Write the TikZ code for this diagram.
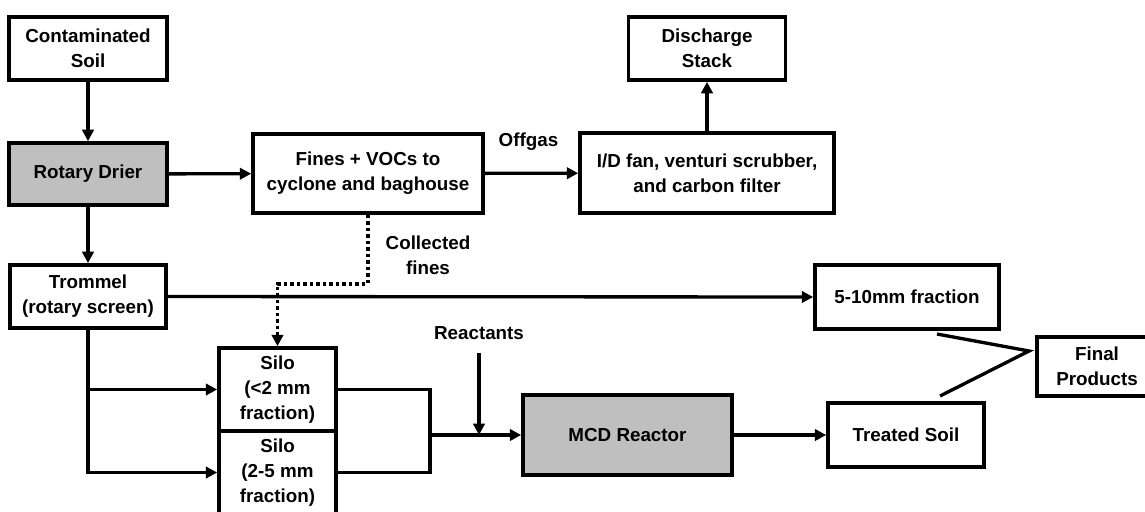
\documentclass[tikz,border=0pt]{standalone}
\usepackage{fontspec}
\setmainfont{Liberation Sans}
\usetikzlibrary{arrows.meta, calc}

\begin{document}
\begin{tikzpicture}[x=0.02cm, y=-0.02cm,
  pbox/.style={draw, line width=2.1pt, align=center, inner sep=2pt, font=\fontsize{10.7pt}{14.2pt}\selectfont\bfseries},
  shaded/.style={pbox, fill=black!25},
  tag/.style={align=center, inner sep=1pt, font=\fontsize{10.7pt}{14.2pt}\selectfont\bfseries},
  arr/.style={line width=1.9pt, -{Triangle[length=6.5pt, width=6.5pt]}},
  flow/.style={line width=1.9pt},
  finesline/.style={arr, dash pattern=on 2pt off 1.7pt}
]
  \useasboundingbox (0,0) rectangle (1145,511);

  \node[pbox, minimum width=3.16cm, minimum height=1.26cm] (soil) at (88,48.5) {Contaminated\\Soil};
  \node[shaded, minimum width=3.16cm, minimum height=1.24cm] (drier) at (88,174) {Rotary Drier};
  \node[pbox, minimum width=3.12cm, minimum height=1.26cm] (trommel) at (88,296.5) {Trommel\\(rotary screen)};
  \node[pbox, minimum width=4.6cm, minimum height=1.58cm] (fines) at (368,173.5) {Fines + VOCs to\\cyclone and baghouse};
  \node[pbox, minimum width=5.08cm, minimum height=1.6cm] (scrub) at (707,173) {I/D fan, venturi scrubber,\\and carbon filter};
  \node[pbox, minimum width=3.14cm, minimum height=1.26cm] (stack) at (707,48.5) {Discharge\\Stack};
  \node[pbox, minimum width=2.34cm, minimum height=1.66cm] (silo1) at (277.5,389.5) {Silo\\(<2 mm\\fraction)};
  \node[pbox, minimum width=2.34cm, minimum height=1.66cm] (silo2) at (277.5,472.5) {Silo\\(2-5 mm\\fraction)};
  \node[shaded, minimum width=4.18cm, minimum height=1.6cm] (reactor) at (627.5,435) {MCD Reactor};
  \node[pbox, minimum width=3.68cm, minimum height=1.28cm] (coarse) at (907,297) {5-10mm fraction};
  \node[pbox, minimum width=3.12cm, minimum height=1.28cm] (treated) at (906,435) {Treated Soil};
  \node[pbox, minimum width=2.4cm, minimum height=1.18cm] (final) at (1097,366.5) {Final\\Products};

  \node[tag] (offgas) at (528.5,142) {Offgas};
  \node[tag] (collected) at (428,255.5) {Collected\\fines};
  \node[tag] (reactants) at (479,333) {Reactants};

  \coordinate (mix) at (430,435);
  \coordinate (feed) at (479,353);
  \coordinate (p1) at (937,334);
  \coordinate (p2) at (1029,351);
  \coordinate (p3) at (940,396);

  \draw[arr] (soil) -- (drier);
  \draw[arr] (drier) -- (fines);
  \draw[arr] (fines) -- (scrub);
  \draw[arr] (scrub.north) -- (stack.south);
  \draw[arr] (drier) -- (trommel);
  \draw[finesline] (fines.south) -- ++(0,69) -| (silo1.north);
  \draw[arr] (trommel.east) -- (coarse.west);
  \draw[arr] (trommel.south) |- (silo2.west);
  \draw[arr] (trommel.south |- silo1.west) -- (silo1.west);
  \draw[flow] (silo1.east) -| (mix) |- (silo2.east);
  \draw[arr] (mix) -- (reactor.west);
  \draw[arr] (feed) -- (feed |- mix);
  \draw[arr] (reactor.east) -- (treated.west);
  \draw[flow] (p1) -- (p2) -- (p3);
\end{tikzpicture}
\end{document}
